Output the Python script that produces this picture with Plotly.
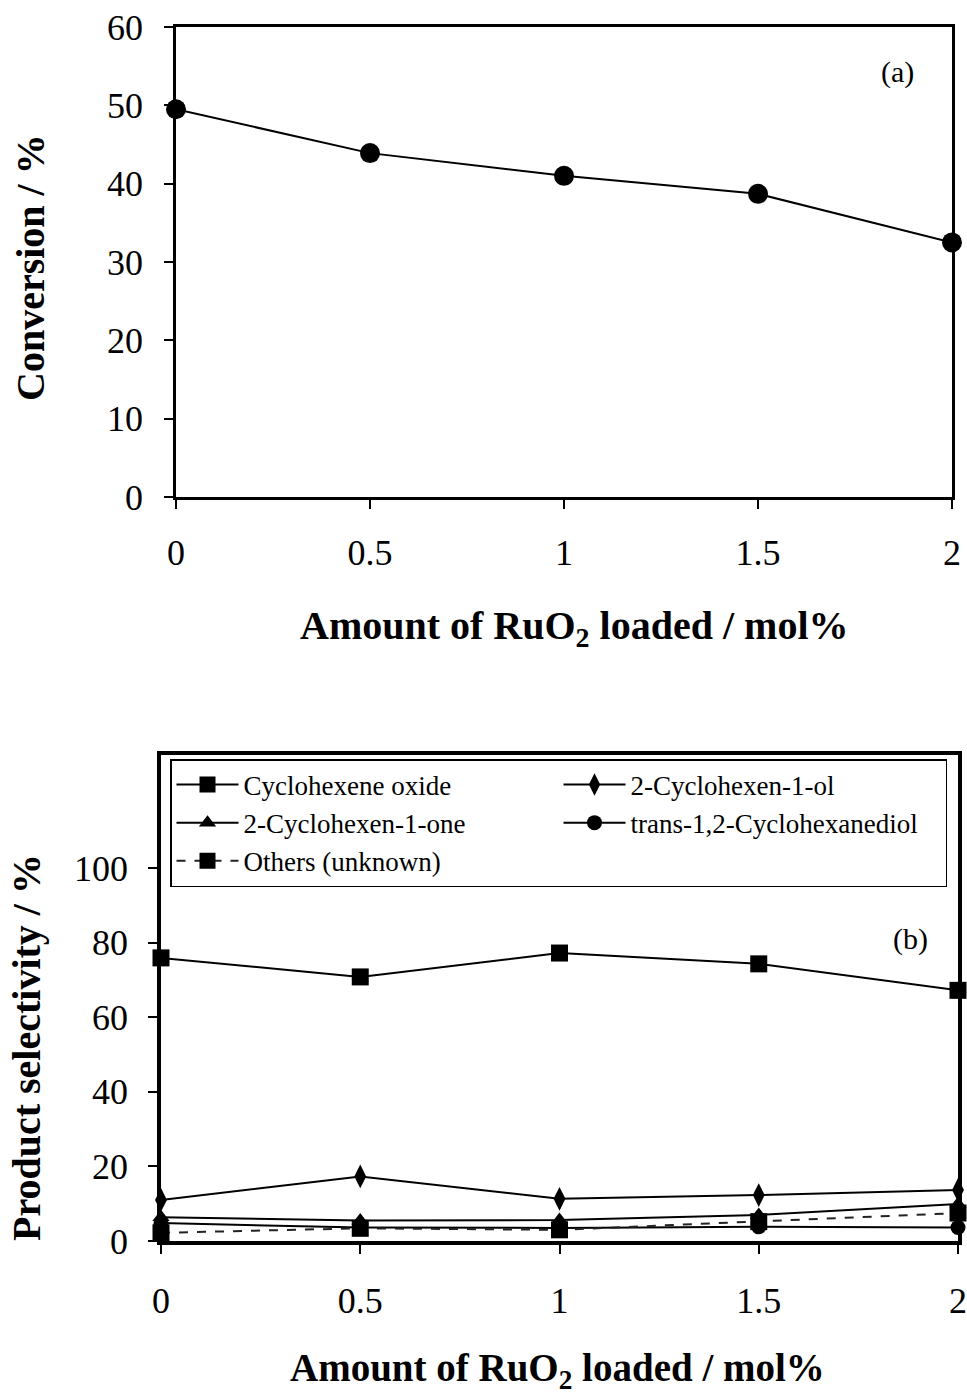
import plotly.graph_objects as go

# ---- data ----
ruo2 = [0, 0.5, 1, 1.5, 2]
x_ticks = [0, 0.5, 1, 1.5, 2]
x_ticktext = ["0", "0.5", "1", "1.5", "2"]

conversion = [49.5, 43.9, 41.0, 38.7, 32.5]
conv_ticks = [0, 10, 20, 30, 40, 50, 60]

sel_oxide = [75.9, 70.8, 77.2, 74.3, 67.2]
sel_enol = [11.0, 17.3, 11.3, 12.3, 13.7]
sel_enone = [6.4, 5.5, 5.6, 7.0, 9.9]
sel_diol = [4.8, 3.6, 3.5, 3.8, 3.6]
sel_others = [2.2, 3.4, 3.0, 5.2, 7.5]
sel_ticks = [0, 20, 40, 60, 80, 100]

W, H = 967, 1395
FONT = "Liberation Serif, Times New Roman, serif"

def px(v):
    return v / W

def py(v):
    return 1 - v / H

fig = go.Figure()

# ---- (a) conversion ----
fig.add_trace(go.Scatter(
    x=ruo2, y=conversion, mode="lines+markers",
    line=dict(color="black", width=2),
    marker=dict(symbol="circle", size=20, color="black"),
    xaxis="x", yaxis="y", showlegend=False, cliponaxis=False))

# ---- (b) selectivity ----
series = [
    ("Cyclohexene oxide", sel_oxide, "square", 17, "solid"),
    ("2-Cyclohexen-1-ol", sel_enol, "diamond-tall", 17, "solid"),
    ("2-Cyclohexen-1-one", sel_enone, "triangle-up", 15, "solid"),
    ("trans-1,2-Cyclohexanediol", sel_diol, "circle", 15, "solid"),
    ("Others (unknown)", sel_others, "square", 17, "dash"),
]
for name, vals, sym, size, dash in series:
    fig.add_trace(go.Scatter(
        x=ruo2, y=vals, mode="lines+markers", name=name,
        line=dict(color="#222" if dash == "dash" else "black", width=2, dash=dash),
        marker=dict(symbol=sym, size=size, color="black"),
        xaxis="x2", yaxis="y2", cliponaxis=False))

axis_common = dict(
    showgrid=False, zeroline=False, showline=True, linecolor="black",
    mirror=True, ticks="outside", tickcolor="black", ticklen=9, tickwidth=2,
    tickfont=dict(family=FONT, size=36, color="black"), automargin=False,
)

def ann(text, x, y, size, angle=0):
    return dict(text=text, x=px(x), y=py(y), xref="paper", yref="paper",
                xanchor="center", yanchor="middle", textangle=angle,
                showarrow=False, font=dict(family=FONT, size=size, color="black"))

fig.update_layout(
    width=W, height=H,
    margin=dict(l=0, r=0, t=0, b=0, autoexpand=False),
    paper_bgcolor="white", plot_bgcolor="white",
    font=dict(family=FONT, color="black"),
    xaxis=dict(domain=[px(176), px(952)], range=[0, 2], tickvals=x_ticks,
               ticktext=x_ticktext, anchor="y", linewidth=2.5,
               ticklabelstandoff=13, **axis_common),
    yaxis=dict(domain=[py(497), py(27)], range=[0, 60], tickvals=conv_ticks,
               anchor="x", linewidth=2.5, ticklabelstandoff=14, **axis_common),
    xaxis2=dict(domain=[px(161), px(958)], range=[0, 2], tickvals=x_ticks,
                ticktext=x_ticktext, anchor="y2", linewidth=3.5,
                ticklabelstandoff=16, **axis_common),
    yaxis2=dict(domain=[py(1241), py(755)], range=[0, (1241 - 755) / 3.73],
                tickvals=sel_ticks, anchor="x2", linewidth=3.5,
                ticklabelstandoff=13, **axis_common),
    legend=dict(
        orientation="h", x=px(170), y=py(759), xanchor="left", yanchor="top",
        xref="paper", yref="paper",
        entrywidth=310, entrywidthmode="pixels", itemwidth=62,
        bordercolor="black", borderwidth=1.5, bgcolor="white",
        font=dict(family=FONT, size=27, color="black"),
        tracegroupgap=0,
    ),
    annotations=[
        ann("<b>Amount of RuO<sub>2</sub> loaded / mol%</b>", 574, 628, 40),
        ann("<b>Conversion / %</b>", 31, 268, 40, -90),
        ann("(a)", 897, 72, 30),
        ann("<b>Amount of RuO<sub>2</sub> loaded / mol%</b>", 557, 1370, 39),
        ann("<b>Product selectivity / %</b>", 26, 1048, 40, -90),
        ann("(b)", 910, 939, 30),
    ],
)

fig.write_html("out.html")
